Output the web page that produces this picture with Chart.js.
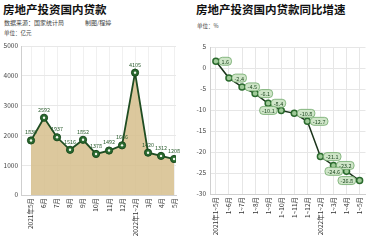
<!DOCTYPE html>
<html><head><meta charset="utf-8">
<script src="https://cdn.jsdelivr.net/npm/chart.js@4.4.1/dist/chart.umd.min.js"></script>
<style>
html,body{margin:0;padding:0;background:#fff;width:371px;height:240px;overflow:hidden;font-family:"Noto Sans CJK SC",sans-serif;}
.t{position:absolute;white-space:nowrap;color:#111;line-height:1;}
canvas{position:absolute;}
</style></head><body>
<div class="t" style="left:3px;top:4px;font-size:11.5px;font-weight:bold;">房地产投资国内贷款</div>
<div class="t" style="left:4px;top:20px;font-size:6px;color:#444;">数据来源：国家统计局</div>
<div class="t" style="left:85px;top:20px;font-size:6px;color:#444;">制图/程婷</div>
<div class="t" style="left:4px;top:31px;font-size:5.5px;color:#444;">单位：亿元</div>
<div class="t" style="left:196px;top:4px;font-size:11.5px;font-weight:bold;">房地产投资国内贷款同比增速</div>
<div class="t" style="left:197px;top:24px;font-size:5.5px;color:#444;">单位：%</div>
<canvas id="c1" width="185" height="202" style="left:0;top:38px"></canvas>
<canvas id="c2" width="186" height="202" style="left:185px;top:38px"></canvas>
<script>
const loanMonths = ['2021年5月','6月','7月','8月','9月','10月','11月','12月','2022年1~2月','3月','4月','5月'];
const loanValues = [1830, 2592, 1937, 1516, 1852, 1378, 1492, 1666, 4105, 1420, 1312, 1208];
const loanTicks = [0, 1000, 2000, 3000, 4000, 5000];

const growthPeriods = ['2021年1~5月','1~6月','1~7月','1~8月','1~9月','1~10月','1~11月','1~12月','2022年1~2月','1~3月','1~4月','1~5月'];
const growthValues = [1.6, -2.4, -4.5, -6.1, -8.4, -10.1, -10.8, -12.7, -21.1, -23.2, -24.6, -26.8];
const growthTicks = [-30, -25, -20, -15, -10, -5, 0, 5];

const FONT = '"Noto Sans CJK SC", sans-serif';

const labelPlugin = {
  id: 'vlabels',
  afterDatasetsDraw(chart, args, opts) {
    const ctx = chart.ctx;
    const meta = chart.getDatasetMeta(0);
    const ds = chart.data.datasets[0];
    ctx.save();
    ctx.font = opts.size + 'px ' + FONT;
    meta.data.forEach((pt, i) => {
      const v = ds.data[i].y;
      if (opts.dot) {
        ctx.fillStyle = '#f4f8ee';
        ctx.beginPath(); ctx.arc(pt.x, pt.y, 1.2, 0, Math.PI * 2); ctx.fill();
      }
      if (!opts.bubble) {
        const txt = String(v);
        ctx.fillStyle = opts.color;
        ctx.textAlign = 'center';
        ctx.textBaseline = 'bottom';
        ctx.fillText(txt, pt.x, pt.y - 5.5);
      } else {
        const txt = v.toFixed(1);
        const w = ctx.measureText(txt).width + 5;
        const h = 8;
        const left = opts.leftSide.includes(i);
        const x0 = left ? pt.x - 4 - w : pt.x + 3;
        const y0 = pt.y - h / 2;
        ctx.beginPath();
        ctx.roundRect(x0, y0, w, h, 3.5);
        ctx.fillStyle = '#cfe5c8';
        ctx.fill();
        ctx.strokeStyle = '#6fa86a';
        ctx.lineWidth = 0.8;
        ctx.stroke();
        ctx.fillStyle = '#1f4a22';
        ctx.textAlign = 'center';
        ctx.textBaseline = 'middle';
        ctx.fillText(txt, x0 + w / 2, pt.y + 0.5);
      }
    });
    ctx.restore();
  }
};

function xTickCb(cats) {
  return function (val) { return Number.isInteger(val) && cats[val] !== undefined ? cats[val] : ''; };
}

new Chart(document.getElementById('c1'), {
  type: 'line',
  data: {
    datasets: [{
      data: loanValues.map((v, i) => ({ x: i, y: v })),
      borderColor: '#1f4d22',
      borderWidth: 1.8,
      backgroundColor: 'rgba(214,190,140,0.85)',
      fill: 'origin',
      tension: 0,
      pointRadius: 3.6,
      pointBackgroundColor: '#2a6a2f',
      pointBorderColor: '#1a4a1e',
      pointBorderWidth: 1
    }]
  },
  options: {
    responsive: false,
    animation: false,
    layout: { padding: { top: 8, right: 9, left: 0, bottom: 0 } },
    plugins: {
      legend: { display: false }, tooltip: { enabled: false },
      vlabels: { size: 5.5, color: '#2d5e30', dot: true, bubble: false }
    },
    scales: {
      x: {
        type: 'linear', min: -0.77, max: 11.15,
        afterFit: s => { s.height = 45; },
        grid: { color: 'rgba(0,0,0,0.06)', drawTicks: false },
        border: { color: '#cfcfcf' },
        afterBuildTicks: s => { s.ticks = loanMonths.map((c, i) => ({ value: i })); },
        ticks: { callback: xTickCb(loanMonths), autoSkip: false, minRotation: 90, maxRotation: 90, padding: 3, color: '#333', font: { size: 6.5, family: FONT } }
      },
      y: {
        min: 0, max: 5000,
        afterFit: s => { s.width = 21; },
        afterBuildTicks: s => { s.ticks = loanTicks.map(v => ({ value: v })); },
        grid: { color: '#e8e8e8', drawTicks: false },
        border: { color: '#cfcfcf' },
        ticks: { callback: v => String(v), padding: 3, color: '#444', font: { size: 6.5, family: FONT } }
      }
    }
  },
  plugins: [labelPlugin]
});

new Chart(document.getElementById('c2'), {
  type: 'line',
  data: {
    datasets: [{
      data: growthValues.map((v, i) => ({ x: i, y: v })),
      borderColor: '#1c351c',
      borderWidth: 1.5,
      fill: false,
      tension: 0,
      pointRadius: 3,
      pointBackgroundColor: '#9fca98',
      pointBorderColor: '#2a6a2d',
      pointBorderWidth: 1.5
    }]
  },
  options: {
    responsive: false,
    animation: false,
    layout: { padding: { top: 9, right: 0, left: 0, bottom: 0 } },
    plugins: {
      legend: { display: false }, tooltip: { enabled: false },
      vlabels: { size: 5.5, bubble: true, leftSide: [5, 10, 11] }
    },
    scales: {
      x: {
        type: 'linear', min: -0.45, max: 11.45,
        afterFit: s => { s.height = 46; },
        grid: { color: '#e6e6e6', drawTicks: false },
        border: { color: '#cfcfcf' },
        afterBuildTicks: s => { s.ticks = growthPeriods.map((c, i) => ({ value: i })); },
        ticks: { callback: xTickCb(growthPeriods), autoSkip: false, minRotation: 90, maxRotation: 90, padding: 3, color: '#333', font: { size: 6.5, family: FONT } }
      },
      y: {
        min: -30, max: 5,
        afterFit: s => { s.width = 25; },
        afterBuildTicks: s => { s.ticks = growthTicks.map(v => ({ value: v })); },
        grid: { color: '#e6e6e6', drawTicks: false },
        border: { color: '#cfcfcf' },
        ticks: { padding: 4, color: '#444', font: { size: 6.5, family: FONT } }
      }
    }
  },
  plugins: [labelPlugin]
});
</script>
</body></html>
